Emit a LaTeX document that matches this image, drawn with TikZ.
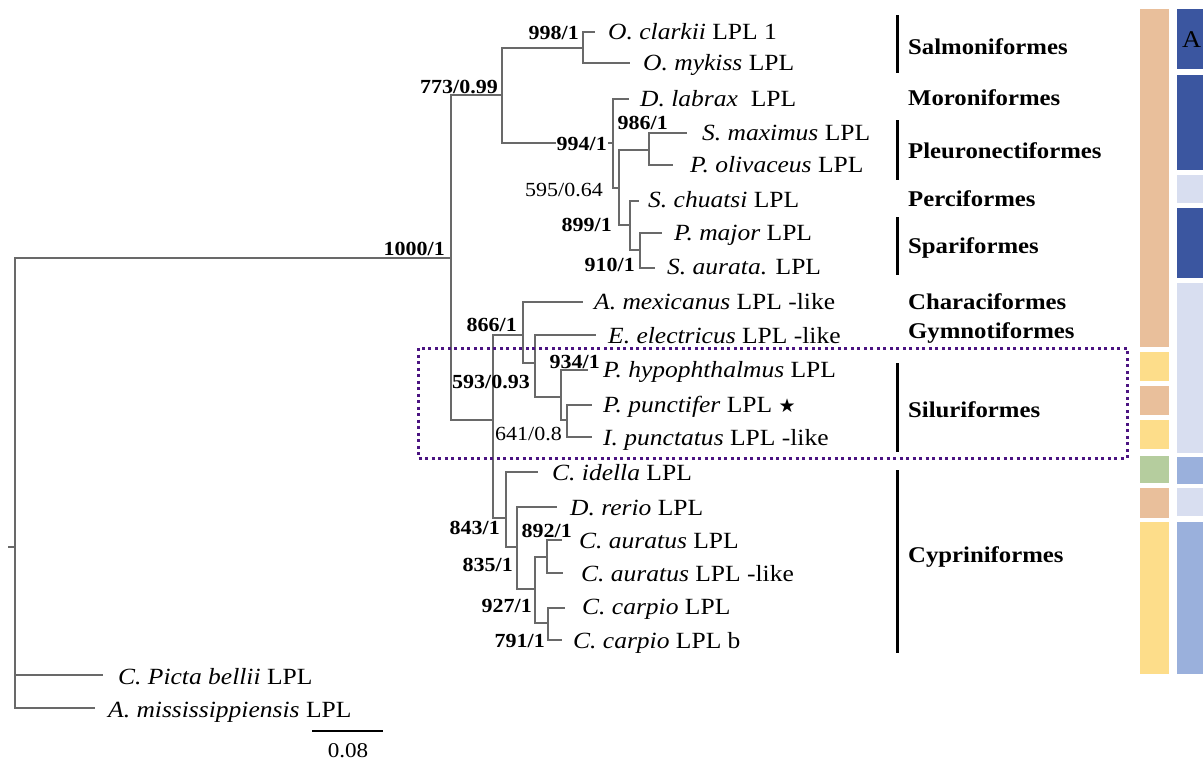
\documentclass[tikz,border=0pt]{standalone}
\usepackage{fontspec}
\setmainfont{Liberation Serif}[FakeStretch=1.1]
\newfontfamily\symfont{DejaVu Sans}
\definecolor{treegray}{RGB}{105,105,105}
\definecolor{boxpurple}{RGB}{75,20,130}
\definecolor{cpeach}{RGB}{233,191,155}
\definecolor{cyellow}{RGB}{253,221,138}
\definecolor{cgreen}{RGB}{181,205,158}
\definecolor{cdark}{RGB}{59,86,160}
\definecolor{clight}{RGB}{216,222,240}
\definecolor{cmid}{RGB}{154,176,220}
\tikzset{
  br/.style={draw=treegray, line width=2.3pt},
  leaf/.style={anchor=base west, inner sep=0pt, font=\fontsize{23.2}{27}\selectfont},
  sup/.style={anchor=base east, inner sep=0pt, font=\fontsize{20}{24}\selectfont\bfseries},
  supn/.style={anchor=base east, inner sep=0pt, font=\fontsize{20}{24}\selectfont},
  ord/.style={anchor=base west, inner sep=0pt, font=\fontsize{22.5}{26}\selectfont\bfseries},
  ordbar/.style={draw=black, line width=3pt},
  colbar/.style={draw=none}
}
\begin{document}
\begin{tikzpicture}[x=1pt,y=-1pt]
\useasboundingbox (0,0) rectangle (1203,761);
% internal nodes and tips
\coordinate (rootL) at (8,547);
\coordinate (root) at (15,547);
\coordinate (n1000) at (451,258);
\coordinate (CP) at (103,675);
\coordinate (AM) at (95,708);
\coordinate (n773) at (502,95);
\coordinate (n593) at (493,420);
\coordinate (n998) at (583,48);
\coordinate (n994) at (613,143);
\coordinate (OC) at (595,32);
\coordinate (OM) at (630,63);
\coordinate (DL) at (629,99);
\coordinate (n595) at (619,188);
\coordinate (n986) at (649,150);
\coordinate (n899) at (630,225);
\coordinate (SM) at (687,133);
\coordinate (PO) at (673,165);
\coordinate (SC) at (639,201);
\coordinate (n910) at (640,250);
\coordinate (PM) at (662,233);
\coordinate (SA) at (655,268);
\coordinate (n866) at (523,335);
\coordinate (n843) at (506,518);
\coordinate (AMX) at (583,302);
\coordinate (nEE) at (535,363);
\coordinate (EE) at (596,335);
\coordinate (n934) at (561,397);
\coordinate (PH) at (588,370);
\coordinate (n641) at (567,420);
\coordinate (PP) at (592,405);
\coordinate (IP) at (592,437);
\coordinate (CI) at (538,472);
\coordinate (n835) at (517,547);
\coordinate (DR) at (557,507);
\coordinate (n927) at (535,589);
\coordinate (n892) at (547,557);
\coordinate (n791) at (548,623);
\coordinate (CA) at (562,540);
\coordinate (CAL) at (563,573);
\coordinate (CC) at (565,608);
\coordinate (CCB) at (562,640);
% colour bars
\fill[cpeach] (1140,9) rectangle (1169,347);
\fill[cyellow] (1140,352) rectangle (1169,381);
\fill[cpeach] (1140,386) rectangle (1169,415);
\fill[cyellow] (1140,420) rectangle (1169,449);
\fill[cgreen] (1140,456) rectangle (1169,483);
\fill[cpeach] (1140,488) rectangle (1169,518);
\fill[cyellow] (1140,522) rectangle (1169,674);
\fill[cdark] (1177,9) rectangle (1203,69);
\fill[cdark] (1177,75) rectangle (1203,170);
\fill[clight] (1177,175) rectangle (1203,203);
\fill[cdark] (1177,208) rectangle (1203,278);
\fill[clight] (1177,283) rectangle (1203,453);
\fill[cmid] (1177,457) rectangle (1203,484);
\fill[clight] (1177,488) rectangle (1203,516);
\fill[cmid] (1177,522) rectangle (1203,674);
\node[anchor=base west, inner sep=0pt, font=\fontsize{24}{28}\selectfont] (lblA) at (1182,47) {A};
% branches
\draw[br] (rootL) -- (root);
\draw[br] (root) |- (n1000);
\draw[br] (root) |- (CP);
\draw[br] (root) |- (AM);
\draw[br] (n1000) |- (n773);
\draw[br] (n1000) |- (n593);
\draw[br] (n773) |- (n998);
\draw[br] (n773) |- (n994);
\draw[br] (n998) |- (OC);
\draw[br] (n998) |- (OM);
\draw[br] (n994) |- (DL);
\draw[br] (n994) |- (n595);
\draw[br] (n595) |- (n986);
\draw[br] (n595) |- (n899);
\draw[br] (n986) |- (SM);
\draw[br] (n986) |- (PO);
\draw[br] (n899) |- (SC);
\draw[br] (n899) |- (n910);
\draw[br] (n910) |- (PM);
\draw[br] (n910) |- (SA);
\draw[br] (n593) |- (n866);
\draw[br] (n593) |- (n843);
\draw[br] (n866) |- (AMX);
\draw[br] (n866) |- (nEE);
\draw[br] (nEE) |- (EE);
\draw[br] (nEE) |- (n934);
\draw[br] (n934) |- (PH);
\draw[br] (n934) |- (n641);
\draw[br] (n641) |- (PP);
\draw[br] (n641) |- (IP);
\draw[br] (n843) |- (CI);
\draw[br] (n843) |- (n835);
\draw[br] (n835) |- (DR);
\draw[br] (n835) |- (n927);
\draw[br] (n927) |- (n892);
\draw[br] (n927) |- (n791);
\draw[br] (n892) |- (CA);
\draw[br] (n892) |- (CAL);
\draw[br] (n791) |- (CC);
\draw[br] (n791) |- (CCB);
% leaf labels
\node[leaf] (tOC) at (608,39) {\textit{O. clarkii} LPL 1};
\node[leaf] (tOM) at (643,70) {\textit{O. mykiss} LPL};
\node[leaf] (tDL) at (640,106) {\textit{D. labrax}\ \ LPL};
\node[leaf] (tSM) at (702,140) {\textit{S. maximus} LPL};
\node[leaf] (tPO) at (690,172) {\textit{P. olivaceus} LPL};
\node[leaf] (tSC) at (648,207) {\textit{S. chuatsi} LPL};
\node[leaf] (tPM) at (674,240) {\textit{P. major} LPL};
\node[leaf] (tSA) at (667,274) {\textit{S. aurata.} LPL};
\node[leaf] (tAMX) at (594,309) {\textit{A. mexicanus} LPL -like};
\node[leaf] (tEE) at (608,343) {\textit{E. electricus} LPL -like};
\node[leaf] (tPH) at (603,377) {\textit{P. hypophthalmus} LPL};
\node[leaf] (tPP) at (603,412) {\textit{P. punctifer} LPL {\symfont\fontsize{19}{22}\selectfont ★}};
\node[leaf] (tIP) at (603,445) {\textit{I. punctatus} LPL -like};
\node[leaf] (tCI) at (552,480) {\textit{C. idella} LPL};
\node[leaf] (tDR) at (570,515) {\textit{D. rerio} LPL};
\node[leaf] (tCA) at (579,548) {\textit{C. auratus} LPL};
\node[leaf] (tCAL) at (581,581) {\textit{C. auratus} LPL -like};
\node[leaf] (tCC) at (582,614) {\textit{C. carpio} LPL};
\node[leaf] (tCCB) at (573,648) {\textit{C. carpio} LPL b};
\node[leaf] (tCP) at (118,684) {\textit{C. Picta bellii} LPL};
\node[leaf] (tAM) at (108,717) {\textit{A. mississippiensis} LPL};
% support values
\node[sup] (s998) at (579,39) {998/1};
\node[sup] (s773) at (498,93) {773/0.99};
\node[sup, fill=white, inner sep=1pt] (s994) at (608,150) {994/1};
\node[sup] (s986) at (668,129) {986/1};
\node[supn] (s595) at (603,196) {595/0.64};
\node[sup] (s899) at (612,231) {899/1};
\node[sup] (s910) at (635,271) {910/1};
\node[sup] (s1000) at (445,255) {1000/1};
\node[sup] (s866) at (517,331) {866/1};
\node[sup] (s934) at (600,368) {934/1};
\node[sup] (s593) at (530,388) {593/0.93};
\node[supn] (s641) at (562,440) {641/0.8};
\node[sup] (s843) at (500,534) {843/1};
\node[sup] (s892) at (572,537) {892/1};
\node[sup] (s835) at (513,571) {835/1};
\node[sup] (s927) at (532,612) {927/1};
\node[sup] (s791) at (545,647) {791/1};
% order bars and labels
\coordinate (b1a) at (897,15); \coordinate (b1b) at (897,73);
\coordinate (b2a) at (897,120); \coordinate (b2b) at (897,180);
\coordinate (b3a) at (897,217); \coordinate (b3b) at (897,275);
\coordinate (b4a) at (897,363); \coordinate (b4b) at (897,452);
\coordinate (b5a) at (897,470); \coordinate (b5b) at (897,653);
\draw[ordbar] (b1a) -- (b1b);
\draw[ordbar] (b2a) -- (b2b);
\draw[ordbar] (b3a) -- (b3b);
\draw[ordbar] (b4a) -- (b4b);
\draw[ordbar] (b5a) -- (b5b);
\node[ord] (oSal) at (908,54) {Salmoniformes};
\node[ord] (oMor) at (908,105) {Moroniformes};
\node[ord] (oPle) at (908,158) {Pleuronectiformes};
\node[ord] (oPer) at (908,206) {Perciformes};
\node[ord] (oSpa) at (908,253) {Spariformes};
\node[ord] (oCha) at (908,309) {Characiformes};
\node[ord] (oGym) at (908,338) {Gymnotiformes};
\node[ord] (oSil) at (908,417) {Siluriformes};
\node[ord] (oCyp) at (908,562) {Cypriniformes};
% highlight box
\coordinate (hbA) at (418,348);
\coordinate (hbB) at (1127,458);
\draw[draw=boxpurple, line width=3pt, dash pattern=on 3pt off 3.5pt] (hbA) rectangle (hbB);
% scale bar
\coordinate (sbA) at (312,731);
\coordinate (sbB) at (383,731);
\draw[black, line width=1.5pt] (sbA) -- (sbB);
\node[anchor=base, inner sep=0pt, font=\fontsize{21}{25}\selectfont] (sbT) at (348,757) {0.08};
\end{tikzpicture}
\end{document}
